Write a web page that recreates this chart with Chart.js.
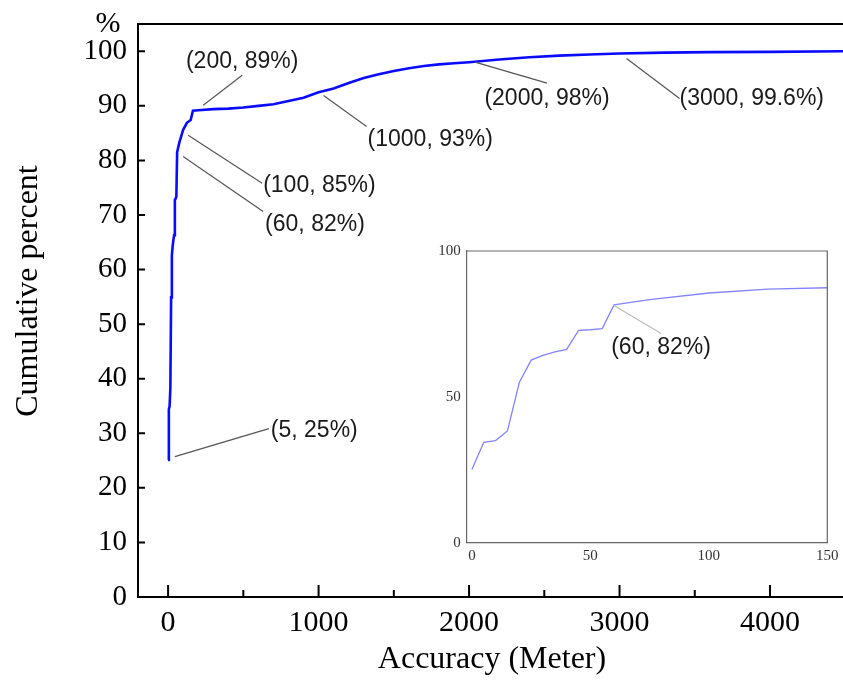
<!DOCTYPE html>
<html>
<head>
<meta charset="utf-8">
<script src="https://cdn.jsdelivr.net/npm/chart.js@4.4.1/dist/chart.umd.min.js"></script>
<style>
body{margin:0;background:#fff;}
#wrap{position:relative;width:843px;height:686px;overflow:hidden;}
#main{position:absolute;left:0;top:0;}
#inset{position:absolute;left:425px;top:235px;}
</style>
</head>
<body>
<div id="wrap">
<canvas id="main" width="843" height="686"></canvas>
<canvas id="inset" width="418" height="335"></canvas>
</div>
<script>
// accuracy (m) vs cumulative percent
const dist = [0,5,10,15,20,25,30,35,40,45,50,55,60,75,100,125,150,165,200,300,400,500,600,700,800,900,1000,1100,1200,1300,1400,1500,1600,1700,1800,1900,2000,2200,2400,2600,2800,3000,3300,3600,4000,4500,4700];
const pct = [25.1,34.4,35,38.3,54.9,62.6,64.2,65.4,66.3,72.8,73,73.4,81.5,83.3,85.6,86.9,87.4,89.1,89.2,89.4,89.5,89.7,90.0,90.3,90.9,91.5,92.5,93.2,94.2,95.1,95.8,96.4,96.9,97.3,97.6,97.8,98.0,98.5,98.9,99.2,99.4,99.6,99.75,99.85,99.9,100,100];

const xTicks = [0,1000,2000,3000,4000];
const xMinor = [500,1500,2500,3500,4500];
const yTicks = [0,10,20,30,40,50,60,70,80,90,100];
const insetXTicks = [0,50,100,150];
const insetYTicks = [0,50,100];

const annoLabel = ['(5, 25%)','(60, 82%)','(100, 85%)','(200, 89%)','(1000, 93%)','(2000, 98%)','(3000, 99.6%)'];
const annoX = [5,60,100,200,1000,2000,3000];
const annoY = [25,82,85,89,93,98,99.6];
// leader line / text offsets in px from the anchor
const leadFrom = [[6,-4],[6,7],[5,2],[5,-6],[5,6],[6,0],[7,5]];
const leadTo = [[100,-32],[86,62],[79,50],[44,-36],[48,37],[78,21],[60,45]];
const textOff = [[2,2,'left'],[2,13,'left'],[1,3,'left'],[0,-14,'center'],[1,13,'left'],[0,15,'center'],[0,0,'left']];

const serif = 'Liberation Serif';
const sans = 'Liberation Sans';

const points = dist.map((d,i)=>({x:d,y:pct[i]}));

function drawAnno(ctx, xs, ys, x, y, from, to, txt, off, lineColor){
  const px = xs.getPixelForValue(x), py = ys.getPixelForValue(y);
  ctx.save();
  ctx.strokeStyle = lineColor;
  ctx.lineWidth = 1.2;
  ctx.beginPath();
  ctx.moveTo(px+from[0], py+from[1]);
  ctx.lineTo(px+to[0], py+to[1]);
  ctx.stroke();
  ctx.fillStyle = '#1a1a1a';
  ctx.font = '23px "'+sans+'"';
  ctx.textAlign = off[2];
  ctx.textBaseline = 'middle';
  ctx.fillText(txt, px+to[0]+off[0], py+to[1]+off[1]);
  ctx.restore();
}

const mainDeco = {
  id:'mainDeco',
  afterDraw(chart){
    const ctx = chart.ctx, a = chart.chartArea;
    const xs = chart.scales.x, ys = chart.scales.y;
    ctx.save();
    ctx.strokeStyle = '#000';
    ctx.lineWidth = 2;
    ctx.beginPath();
    ctx.moveTo(a.left-1, a.top);
    ctx.lineTo(a.right, a.top);
    ctx.stroke();
    // inward ticks
    ctx.beginPath();
    xTicks.forEach(v=>{ const p = xs.getPixelForValue(v); ctx.moveTo(p, a.bottom); ctx.lineTo(p, a.bottom-12); });
    xMinor.forEach(v=>{ const p = xs.getPixelForValue(v); ctx.moveTo(p, a.bottom); ctx.lineTo(p, a.bottom-7); });
    yTicks.forEach(v=>{ const p = ys.getPixelForValue(v); ctx.moveTo(a.left, p); ctx.lineTo(a.left+7, p); });
    ctx.stroke();
    // titles
    ctx.fillStyle = '#000';
    ctx.font = '32px "'+serif+'"';
    ctx.textAlign = 'center';
    ctx.textBaseline = 'alphabetic';
    ctx.fillText('Accuracy (Meter)', 492, 668);
    ctx.save();
    ctx.translate(37, 291);
    ctx.rotate(-Math.PI/2);
    ctx.fillText('Cumulative percent', 0, 0);
    ctx.restore();
    ctx.font = '30px "'+serif+'"';
    ctx.fillText('%', 108, 32);
    ctx.restore();
    annoLabel.forEach((t,i)=>drawAnno(ctx, xs, ys, annoX[i], annoY[i], leadFrom[i], leadTo[i], t, textOff[i], '#555'));
  }
};

const plain = v => String(v);

new Chart(document.getElementById('main'), {
  type:'line',
  data:{datasets:[{data:points, borderColor:'#0a0aff', borderWidth:2.6, pointRadius:0, tension:0, fill:false}]},
  options:{
    responsive:false, animation:false,
    layout:{padding:{top:24,left:0,right:0,bottom:0}},
    plugins:{legend:{display:false}, tooltip:{enabled:false}},
    scales:{
      x:{type:'linear', min:-200, max:4485,
        grid:{display:false, drawTicks:false},
        border:{display:true, color:'#000', width:2},
        ticks:{font:{family:serif, size:30}, color:'#000', padding:8, callback:plain},
        afterBuildTicks:s=>{ s.ticks = xTicks.map(v=>({value:v})); },
        afterFit:s=>{ s.height = 89; s.paddingLeft = 0; s.paddingRight = 0; }},
      y:{type:'linear', min:0, max:105,
        grid:{display:false, drawTicks:false},
        border:{display:true, color:'#000', width:2},
        ticks:{font:{family:serif, size:29}, color:'#000', padding:11, callback:plain},
        afterBuildTicks:s=>{ s.ticks = yTicks.map(v=>({value:v})); },
        afterFit:s=>{ s.width = 138; s.paddingTop = 0; s.paddingBottom = 0; }}
    }
  },
  plugins:[mainDeco]
});

const insetDeco = {
  id:'insetDeco',
  beforeDraw(chart){
    const ctx = chart.ctx, a = chart.chartArea;
    ctx.save();
    ctx.fillStyle = '#fff';
    ctx.fillRect(a.left, a.top, a.right-a.left, a.bottom-a.top);
    ctx.restore();
  },
  afterDraw(chart){
    const ctx = chart.ctx, a = chart.chartArea;
    ctx.save();
    ctx.strokeStyle = '#666';
    ctx.lineWidth = 1.2;
    ctx.beginPath();
    ctx.moveTo(a.left, a.top);
    ctx.lineTo(a.right, a.top);
    ctx.lineTo(a.right, a.bottom);
    ctx.stroke();
    ctx.restore();
    drawAnno(ctx, chart.scales.x, chart.scales.y, 60, 82, [0,2], [47,30], '(60, 82%)', [0,14,'center'], '#bbb');
  }
};

new Chart(document.getElementById('inset'), {
  type:'line',
  data:{datasets:[{data:points, borderColor:'#8484ff', borderWidth:1.3, pointRadius:0, tension:0, fill:false}]},
  options:{
    responsive:false, animation:false,
    layout:{padding:{top:16,left:0,right:15.7,bottom:0}},
    plugins:{legend:{display:false}, tooltip:{enabled:false}},
    scales:{
      x:{type:'linear', min:-2.2, max:150,
        grid:{display:false, drawTicks:false},
        border:{display:true, color:'#666', width:1.2},
        ticks:{font:{family:serif, size:15}, color:'#333', padding:4, callback:plain},
        afterBuildTicks:s=>{ s.ticks = insetXTicks.map(v=>({value:v})); },
        afterFit:s=>{ s.height = 27.3; }},
      y:{type:'linear', min:0, max:100,
        grid:{display:false, drawTicks:false},
        border:{display:true, color:'#666', width:1.2},
        ticks:{font:{family:serif, size:15}, color:'#333', padding:6, callback:plain},
        afterBuildTicks:s=>{ s.ticks = insetYTicks.map(v=>({value:v})); },
        afterFit:s=>{ s.width = 41.7; }}
    }
  },
  plugins:[insetDeco]
});
</script>
</body>
</html>
